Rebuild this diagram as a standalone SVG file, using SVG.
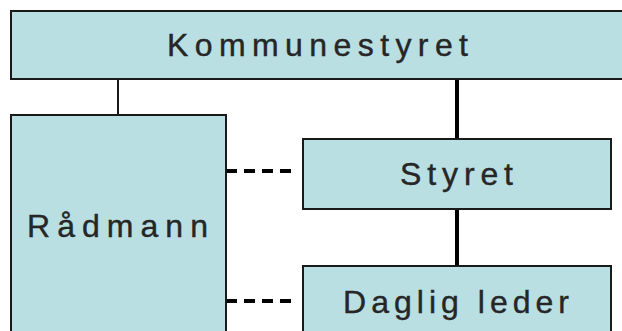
<svg xmlns="http://www.w3.org/2000/svg" width="622" height="331" viewBox="0 0 622 331">
<style>
.box{fill:#B9DFE2;stroke:#1a1a1a;stroke-width:2}
.lbl{font-family:"Liberation Sans",Arial,sans-serif;font-size:32px;fill:#262626;stroke:#262626;stroke-width:0.4}
.thin{stroke:#1a1a1a;stroke-width:2;fill:none}
.thick{stroke:#000;stroke-width:4;fill:none}
.dash{stroke:#000;stroke-width:4;fill:none;stroke-dasharray:11 7}
</style>
<rect width="622" height="331" fill="#fff"/>
<g id="connectors">
<line class="thin" x1="118" y1="79" x2="118" y2="115"/>
<line class="thick" x1="457" y1="79" x2="457" y2="139"/>
<line class="thick" x1="457" y1="209" x2="457" y2="266"/>
<line class="dash" x1="226" y1="171" x2="293" y2="171"/>
<line class="dash" x1="226" y1="301" x2="293" y2="301"/>
</g>
<g id="kommunestyret">
<rect class="box" x="11" y="11" width="620" height="68"/>
<text class="lbl" x="167" y="56" textLength="301" lengthAdjust="spacing">Kommunestyret</text>
</g>
<g id="radmann">
<rect class="box" x="11" y="115" width="215" height="230"/>
<text class="lbl" x="27" y="237" textLength="181" lengthAdjust="spacing">Rådmann</text>
</g>
<g id="styret">
<rect class="box" x="303" y="139" width="308" height="70"/>
<text class="lbl" x="400" y="185" textLength="113" lengthAdjust="spacing">Styret</text>
</g>
<g id="daglig-leder">
<rect class="box" x="303" y="266" width="308" height="80"/>
<text class="lbl" x="343" y="313" textLength="226" lengthAdjust="spacing">Daglig leder</text>
</g>
</svg>
